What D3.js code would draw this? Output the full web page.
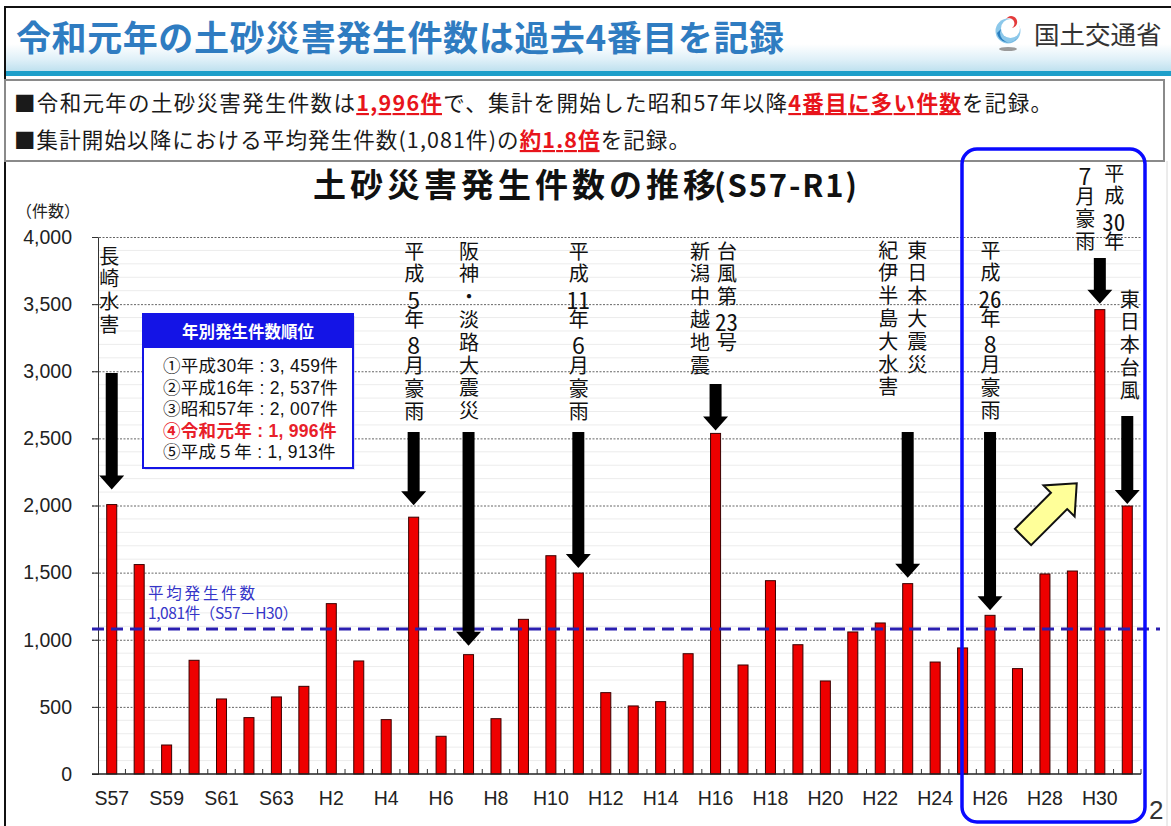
<!DOCTYPE html>
<html lang="ja">
<head>
<meta charset="utf-8">
<script src="https://cdn.jsdelivr.net/npm/d3@7"></script>
<style>
  html, body { margin: 0; padding: 0; background: #fff; }
  #wrap { position: relative; width: 1171px; height: 826px; overflow: hidden; }
  svg { display: block; }
  .jp { font-family: "Noto Sans CJK JP", "Noto Sans", sans-serif; }
  .num { font-family: "Liberation Sans", Arial, sans-serif; }
  .vcol {
    position: absolute; writing-mode: vertical-rl; text-orientation: upright;
    font-family: "Noto Sans CJK JP", sans-serif; font-size: 20px; line-height: 22px;
    letter-spacing: 2.8px; color: #111; white-space: nowrap;
  }
  .vcol .tcy { text-combine-upright: all; font-size: 23px; letter-spacing: 0; }
  .rank {
    position: absolute; font-family: "Liberation Sans", "Noto Sans CJK JP", sans-serif;
    font-size: 17.5px; line-height: 21.6px; letter-spacing: 0.3px; color: #111; white-space: nowrap;
  }
  .rank .hl { color: #e8202a; font-weight: 700; }
</style>
</head>
<body>
<div id="wrap">
<svg id="chart" width="1171" height="826"></svg>
</div>
<script>
// ---- data -------------------------------------------------------------
const years = ["S57","S58","S59","S60","S61","S62","S63",
  "H1","H2","H3","H4","H5","H6","H7","H8","H9","H10",
  "H11","H12","H13","H14","H15","H16","H17","H18","H19","H20",
  "H21","H22","H23","H24","H25","H26","H27","H28","H29","H30","R1"];
const counts = [2007,1560,216,847,559,420,574,
  653,1269,842,405,1913,281,889,412,1152,1626,
  1497,606,507,539,896,2537,812,1440,963,693,
  1058,1125,1418,834,939,1182,785,1490,1512,3459,1996];
const yTicks = [0,500,1000,1500,2000,2500,3000,3500,4000];
const xTickLabels = ["S57","S59","S61","S63","H2","H4","H6","H8","H10","H12",
  "H14","H16","H18","H20","H22","H24","H26","H28","H30"];
const averageCount = 1081;
const averageLabel = ["平均発生件数", "1,081件（S57－H30）"];
const rankingTitle = "年別発生件数順位";
const rankingLines = ["①平成30年 : 3, 459件","②平成16年 : 2, 537件","③昭和57年 : 2, 007件",
  "④令和元年 : 1, 996件","⑤平成５年 : 1, 913件"];
const rankingHighlight = "④令和元年 : 1, 996件";
const eventYears = ["S57","H5","H7","H11","H16","H23","H26","H30","R1"];
const eventNames = [["長崎水害"],["平成5年8月豪雨"],["阪神・淡路大震災"],["平成11年6月豪雨"],
  ["新潟中越地震","台風第23号"],["紀伊半島大水害","東日本大震災"],["平成26年8月豪雨"],
  ["7月豪雨","平成30年"],["東日本台風"]];

// ---- layout -------------------------------------------------------------
const W = 1171, H = 826;
const plot = { left: 98, right: 1141, top: 237, bottom: 774 };
const svg = d3.select("#chart");
const wrap = d3.select("#wrap");

const x = d3.scaleBand().domain(years)
  .range([plot.left, plot.right]).paddingInner(0.635).paddingOuter(0.3175);
const y = d3.scaleLinear().domain([0, 4000]).range([plot.bottom, plot.top]);
const cx = d => x(d) + x.bandwidth() / 2;

// ---- page header -----------------------------------------------------------
const defs = svg.append("defs");
const band = defs.append("linearGradient").attr("id","band").attr("x1",0).attr("y1",0).attr("x2",0).attr("y2",1);
band.append("stop").attr("offset","0%").attr("stop-color","#ffffff");
band.append("stop").attr("offset","58%").attr("stop-color","#ffffff");
band.append("stop").attr("offset","82%").attr("stop-color","#dff0f8");
band.append("stop").attr("offset","100%").attr("stop-color","#bfe1ef");

svg.append("rect").attr("x",5).attr("y",7).attr("width",W-5).attr("height",64).attr("fill","url(#band)");
svg.append("rect").attr("x",5).attr("y",71).attr("width",W-5).attr("height",5).attr("fill","#1d9fca");
svg.append("line").attr("x1",4).attr("x2",W).attr("y1",7).attr("y2",7).attr("stroke","#111").attr("stroke-width",2);
svg.append("line").attr("x1",5).attr("x2",5).attr("y1",6).attr("y2",H).attr("stroke","#111").attr("stroke-width",2);

svg.append("text").attr("class","jp").attr("x",16).attr("y",51)
  .attr("font-size",35).attr("font-weight",700).attr("fill","#2f7cc1")
  .attr("textLength",768).attr("lengthAdjust","spacing")
  .text("令和元年の土砂災害発生件数は過去4番目を記録");

// ministry mark
const logo = svg.append("g").attr("transform","translate(1008,31)");
logo.append("circle").attr("r",12.5).attr("fill","#8cc8ea");
logo.append("circle").attr("cx",2.5).attr("cy",-2.5).attr("r",9.5).attr("fill","#ffffff");
logo.append("path").attr("d","M-11,2 A11.5,11.5 0 0 0 10,6 A9,9 0 0 1 -7,-2 Z").attr("fill","#2a7fc0");
logo.append("path").attr("d","M-2,-12 A6,6 0 1 1 4,-3 A4,4 0 1 0 -2,-12 Z").attr("fill","#e43b3b");
logo.append("ellipse").attr("cx",0).attr("cy",18).attr("rx",9).attr("ry",2).attr("fill","#9a9a9a");
svg.append("text").attr("class","jp").attr("x",1034).attr("y",44)
  .attr("font-size",25.5).attr("fill","#333").text("国土交通省");

// summary box
svg.append("rect").attr("x",5).attr("y",80).attr("width",1159).attr("height",81)
  .attr("fill","#fff").attr("stroke","#8a8a8a").attr("stroke-width",2);
function richLine(yPos, len, parts) {
  const t = svg.append("text").attr("class","jp").attr("x",14).attr("y",yPos)
    .attr("font-size",21.5).attr("fill","#1a1a1a")
    .attr("textLength",len).attr("lengthAdjust","spacing");
  parts.forEach(p => {
    const s = t.append("tspan").text(p[0]);
    if (p[1]) s.attr("fill","#e8141b").attr("font-weight",700).attr("text-decoration","underline");
  });
}
richLine(111, 1038, [["■令和元年の土砂災害発生件数は"],["1,996件",1],["で、集計を開始した昭和57年以降"],["4番目に多い件数",1],["を記録。"]]);
richLine(148, 676, [["■集計開始以降における平均発生件数(1,081件)の"],["約1.8倍",1],["を記録。"]]);

// chart frame right edge
svg.append("line").attr("x1",1167).attr("x2",1167).attr("y1",161).attr("y2",H).attr("stroke","#d8d8d8");

// ---- chart titles -------------------------------------------------------------
svg.append("text").attr("class","jp").attr("x",313).attr("y",197)
  .attr("font-size",33).attr("font-weight",700).attr("fill","#111")
  .attr("textLength",403).attr("lengthAdjust","spacing")
  .text("土砂災害発生件数の推移");
svg.append("text").attr("class","jp").attr("x",714).attr("y",197)
  .attr("font-size",31).attr("font-weight",700).attr("fill","#111")
  .attr("textLength",143).attr("lengthAdjust","spacing")
  .text("(S57-R1)");
svg.append("text").attr("class","jp").attr("x",16).attr("y",217)
  .attr("font-size",16).attr("fill","#222").text("（件数）");

// ---- grid -----------------------------------------------------------------
const minor = d3.range(100, 4000, 100).filter(v => v % 500 !== 0);
svg.append("g").selectAll("line").data(minor).join("line")
  .attr("x1",plot.left).attr("x2",plot.right)
  .attr("y1",d => y(d)).attr("y2",d => y(d))
  .attr("stroke","#ececec").attr("stroke-width",1);
svg.append("g").selectAll("line").data(yTicks.filter(v => v > 0)).join("line")
  .attr("x1",92).attr("x2",plot.right)
  .attr("y1",d => y(d) + 0.5).attr("y2",d => y(d) + 0.5)
  .attr("stroke","#666").attr("stroke-width",1).attr("stroke-dasharray","2,1.5");

// ---- bars -----------------------------------------------------------------
svg.append("g").selectAll("rect").data(years).join("rect")
  .attr("x",d => x(d)).attr("width",x.bandwidth())
  .attr("y",(d,i) => y(counts[i])).attr("height",(d,i) => y(0) - y(counts[i]))
  .attr("fill","#ee0000").attr("stroke","#3a0000").attr("stroke-width",1);

// ---- axes -----------------------------------------------------------------
const yAxis = svg.append("g").attr("transform",`translate(${plot.left},0)`)
  .call(d3.axisLeft(y).tickValues(yTicks).tickFormat(d3.format(",")).tickSize(6).tickPadding(20));
yAxis.select(".domain").attr("stroke","#333");
yAxis.selectAll(".tick line").attr("stroke","#333");
yAxis.selectAll(".tick text").attr("class","num").attr("font-size",19.5).attr("fill","#222");

const xAxis = svg.append("g").attr("transform",`translate(0,${plot.bottom})`)
  .call(d3.axisBottom(x).tickValues(xTickLabels).tickSize(0).tickPadding(17));
xAxis.select(".domain").remove();
xAxis.selectAll(".tick text").attr("class","num").attr("font-size",19.5).attr("fill","#222");
svg.append("line").attr("x1",92).attr("x2",plot.right).attr("y1",plot.bottom).attr("y2",plot.bottom)
  .attr("stroke","#222").attr("stroke-width",1.5);
const bounds = years.map(d => x(d) + x.bandwidth() / 2 + x.step() / 2);
svg.append("g").selectAll("line").data(bounds).join("line")
  .attr("x1",d => d).attr("x2",d => d).attr("y1",plot.bottom).attr("y2",plot.bottom - 5)
  .attr("stroke","#333");

// ---- average line -------------------------------------------------------------
svg.append("line").attr("x1",92).attr("x2",1160)
  .attr("y1",y(averageCount)).attr("y2",y(averageCount))
  .attr("stroke","#2a1fb0").attr("stroke-width",3).attr("stroke-dasharray","12,7");
const avgLens = [107, 150];
svg.append("g").selectAll("text").data(averageLabel).join("text")
  .attr("class","jp").attr("x",148).attr("y",(d,i) => 599 + i * 20)
  .attr("font-size",15.5).attr("fill","#3535c8")
  .attr("textLength",(d,i) => avgLens[i]).attr("lengthAdjust","spacing")
  .text(d => d);

// ---- event annotations ----------------------------------------------------------
const colOffsets = [[-3],[0],[0],[0],[-16,11],[-20,9],[0],[-15,14],[2]];
const textTops = [246,241,241,241,241,240,240,163,289];
const arrowTops = [373,432,432,432,384,432,432,258,416];
const arrowGaps = [15,12,9,5,3,6,5,6,2];
const arrowShape = (xc, top, tip) => {
  const p = d3.path(), sw = 6, hw = 12.5, hl = 14;
  p.moveTo(xc - sw, top); p.lineTo(xc + sw, top); p.lineTo(xc + sw, tip - hl);
  p.lineTo(xc + hw, tip - hl); p.lineTo(xc, tip); p.lineTo(xc - hw, tip - hl);
  p.lineTo(xc - sw, tip - hl); p.closePath();
  return p.toString();
};
const ann = svg.append("g");
eventYears.forEach((yr, k) => {
  const xc = cx(yr);
  const v = counts[years.indexOf(yr)];
  ann.append("path").attr("d", arrowShape(xc, arrowTops[k], y(v) - arrowGaps[k])).attr("fill","#000");
  eventNames[k].forEach((name, j) => {
    // vertical caption, digit groups set upright side by side
    const html = name.replace(/\d+/g, m => `<span class="tcy">${m}</span>`);
    wrap.append("div").attr("class","vcol")
      .style("left", `${xc + colOffsets[k][j] - 11}px`)
      .style("top", `${textTops[k]}px`)
      .html(html);
  });
});

// ---- ranking box -----------------------------------------------------------------
const rb = svg.append("g").attr("transform","translate(143,314)");
rb.append("rect").attr("x",2).attr("y",2).attr("width",210).attr("height",154).attr("fill","#cfcfe8").attr("opacity",0.6);
rb.append("rect").attr("width",210).attr("height",154).attr("fill","#fff").attr("stroke","#1414e6").attr("stroke-width",2);
rb.append("rect").attr("width",210).attr("height",34).attr("fill","#1414e6");
rb.append("text").attr("class","jp").attr("x",105).attr("y",24).attr("text-anchor","middle")
  .attr("font-size",16.5).attr("font-weight",700).attr("fill","#fff").text(rankingTitle);
const rankDiv = wrap.append("div").attr("class","rank").style("left","163px").style("top","356px");
rankDiv.selectAll("div").data(rankingLines).join("div")
  .classed("hl", d => d === rankingHighlight)
  .text(d => d);

// ---- highlight frame and pointer --------------------------------------------------------
svg.append("rect").attr("x",962).attr("y",149).attr("width",183).attr("height",673).attr("rx",15)
  .attr("fill","none").attr("stroke","#0a0aff").attr("stroke-width",3.5);

(function () {
  const tail = [1023, 537], ang = -Math.PI / 4, len = 76, sw = 11.5, hw = 22, hl = 25;
  const ux = Math.cos(ang), uy = Math.sin(ang), nx = -uy, ny = ux;
  const P = (a, b) => [tail[0] + ux * a + nx * b, tail[1] + uy * a + ny * b];
  const pts = [P(0,-sw), P(len-hl,-sw), P(len-hl,-hw), P(len,0), P(len-hl,hw), P(len-hl,sw), P(0,sw)];
  svg.append("polygon").attr("points", pts.map(p => p.join(",")).join(" "))
    .attr("fill","#ffff99").attr("stroke","#111").attr("stroke-width",2).attr("stroke-linejoin","miter");
})();

// page number
svg.append("text").attr("class","num").attr("x",1149).attr("y",819)
  .attr("font-size",26).attr("fill","#333").text("2");
</script>
</body>
</html>
